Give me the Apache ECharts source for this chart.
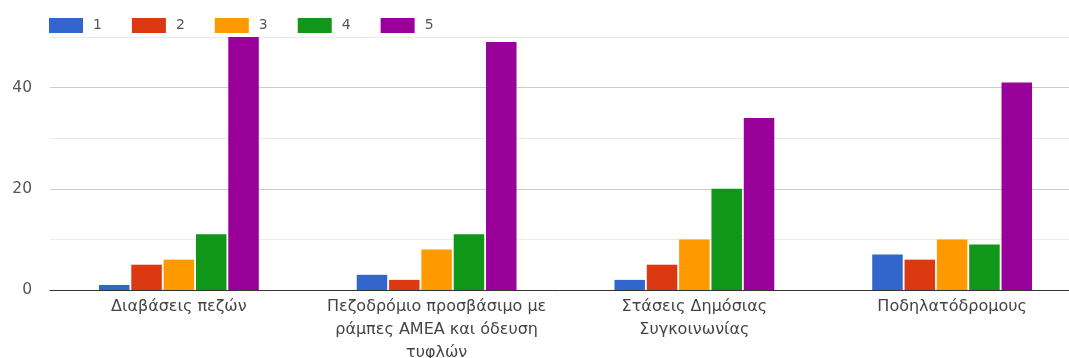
<!DOCTYPE html>
<html>
<head>
<meta charset="utf-8">
<script src="https://cdn.jsdelivr.net/npm/echarts@6/dist/echarts.min.js"></script>
<style>
  html, body { margin: 0; padding: 0; background: #fff; }
  #chart { width: 1069px; height: 358px; }
</style>
</head>
<body>
<div id="chart"></div>
<script>
// κατηγορίες και τιμές
var categories = [
  'Διαβάσεις πεζών',
  'Πεζοδρόμιο προσβάσιμο με\nράμπες ΑΜΕΑ και όδευση\nτυφλών',
  'Στάσεις Δημόσιας\nΣυγκοινωνίας',
  'Ποδηλατόδρομους'
];
var seriesNames = ['1', '2', '3', '4', '5'];
var values1 = [1, 3, 2, 7];
var values2 = [5, 2, 5, 6];
var values3 = [6, 8, 10, 10];
var values4 = [11, 11, 20, 9];
var values5 = [50, 49, 34, 41];
var yTicks = [0, 20, 40];

var colors = ['#3366cc', '#dc3912', '#ff9900', '#109618', '#990099'];
var allValues = [values1, values2, values3, values4, values5];

var chart = echarts.init(document.getElementById('chart'));

var series = seriesNames.map(function (name, i) {
  return {
    name: name,
    type: 'bar',
    data: allValues[i],
    barGap: '6%',
    barCategoryGap: '38%',
    itemStyle: { color: colors[i] }
  };
});

var option = {
  animation: false,
  color: colors,
  textStyle: { fontFamily: 'DejaVu Sans, sans-serif' },
  legend: {
    left: 44,
    top: 13,
    itemWidth: 34,
    itemHeight: 15,
    itemGap: 30,
    icon: 'rect',
    textStyle: { fontSize: 14, color: '#555', padding: [0, 0, 0, 5] },
    data: seriesNames
  },
  grid: {
    left: 50,
    right: -12,
    top: 37,
    bottom: 68,
    outerBoundsMode: 'none',
    containLabel: false
  },
  xAxis: {
    type: 'category',
    data: categories,
    axisTick: { show: false },
    axisLine: { lineStyle: { color: '#333', width: 1 } },
    axisLabel: {
      fontSize: 16,
      color: '#444',
      lineHeight: 23,
      margin: 5,
      interval: 0
    }
  },
  yAxis: {
    type: 'value',
    min: 0,
    max: 50,
    interval: 10,
    axisLine: { show: false },
    axisTick: { show: false },
    axisLabel: {
      fontSize: 15.5,
      color: '#555',
      margin: 18,
      formatter: function (v) {
        return yTicks.indexOf(v) >= 0 ? String(v) : '';
      }
    },
    splitLine: { lineStyle: { color: ['#ccc', '#ebebeb'] } }
  },
  series: series
};

chart.setOption(option);
</script>
</body>
</html>
